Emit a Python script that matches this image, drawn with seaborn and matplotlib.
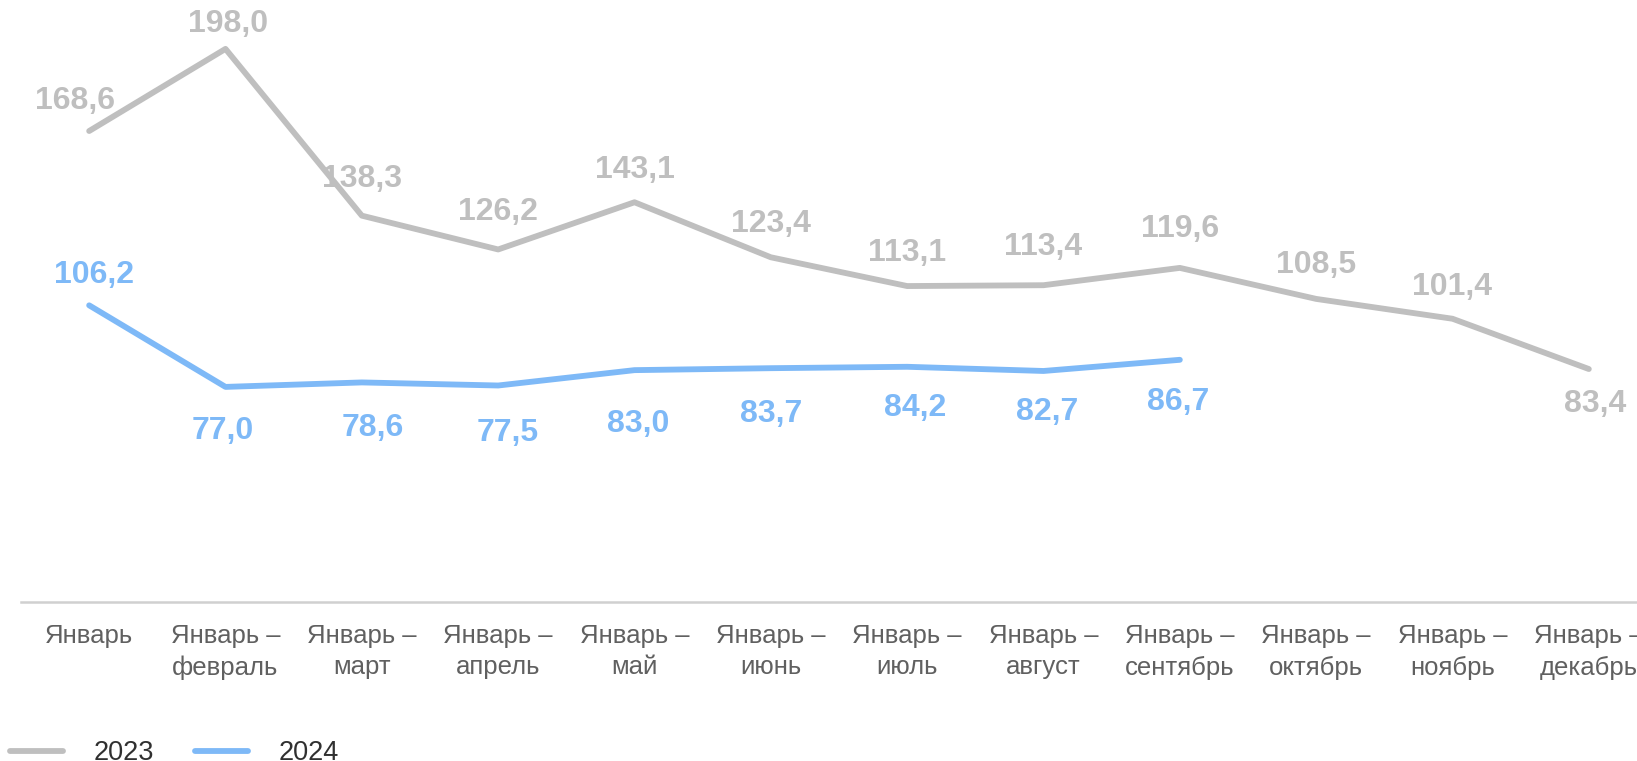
import numpy as np
import pandas as pd
import matplotlib
matplotlib.use("Agg")
import matplotlib.pyplot as plt
import seaborn as sns

# ---- data ----
categories = ["Январь", "Январь –\nфевраль", "Январь –\nмарт", "Январь –\nапрель",
              "Январь –\nмай", "Январь –\nиюнь", "Январь –\nиюль", "Январь –\nавгуст",
              "Январь –\nсентябрь", "Январь –\nоктябрь", "Январь –\nноябрь", "Январь –\nдекабрь"]
values_2023 = [168.6, 198.0, 138.3, 126.2, 143.1, 123.4, 113.1, 113.4, 119.6, 108.5, 101.4, 83.4]
values_2024 = [106.2, 77.0, 78.6, 77.5, 83.0, 83.7, 84.2, 82.7, 86.7]
years = ["2023", "2024"]

# label offsets in pixels (dx, dy) - placement as in the original
off_2023 = [(-14, 30), (3, 25), (0, 37), (0, 37), (0, 32), (0, 33),
            (0, 33), (0, 38), (0, 39), (0, 34), (0, 32), (6, -35)]
off_2024 = [(5, 30), (-3, -44), (11, -46), (10, -47), (4, -54),
            (0, -46), (8, -41), (4, -41), (-2, -42)]

colors = {"2023": "#BFBFBF", "2024": "#7EB9F7"}

df = pd.concat([
    pd.DataFrame({"pos": range(len(values_2023)), "value": values_2023, "year": "2023"}),
    pd.DataFrame({"pos": range(len(values_2024)), "value": values_2024, "year": "2024"}),
])

sns.set_style("white")
plt.rcParams["font.family"] = ["Liberation Sans", "DejaVu Sans"]

W, H = 1637, 761
fig = plt.figure(figsize=(W / 100, H / 100), dpi=100)
ax = fig.add_axes([21 / W, 1 - 602 / H, 1636 / W, 602 / H])

sns.lineplot(data=df, x="pos", y="value", hue="year", palette=colors,
             linewidth=4.2, ax=ax, solid_capstyle="round")

ax.set_xlim(-0.5, 11.5)
ax.set_ylim(0, 215.5)

# data labels
for vals, offs, yr in [(values_2023, off_2023, "2023"), (values_2024, off_2024, "2024")]:
    for i, (v, (dx, dy)) in enumerate(zip(vals, offs)):
        ax.annotate(f"{v:.1f}".replace(".", ","), (i, v), xytext=(dx, dy),
                    textcoords="offset pixels", ha="center", va="center",
                    fontsize=23, fontweight="bold", color=colors[yr])

# axes styling
for s in ["top", "left", "right"]:
    ax.spines[s].set_visible(False)
ax.spines["bottom"].set_color("#D0D0D0")
ax.spines["bottom"].set_linewidth(1.8)
ax.set_yticks([])
ax.set_xticks(np.arange(-0.5, 12, 1))
ax.set_xticklabels([])
ax.tick_params(axis="x", which="major", length=7, width=1.5, color="#D0D0D0")
ax.set_xticks(range(len(categories)), minor=True)
ax.set_xticklabels(categories, minor=True, fontsize=18.5, color="#606060",
                   multialignment="center", linespacing=1.38)
ax.tick_params(axis="x", which="minor", length=0, pad=16)
ax.set_xlabel("")
ax.set_ylabel("")

sns.move_legend(ax, loc="center left", bbox_to_anchor=(10 / W, 8 / H),
                bbox_transform=fig.transFigure, ncol=2, frameon=False, title=None,
                handlelength=1.95, handletextpad=1.15, columnspacing=1.5,
                fontsize=19.5, borderpad=0, borderaxespad=0)
for t in ax.get_legend().get_texts():
    t.set_color("#303030")

fig.savefig("out.png", dpi=100)
